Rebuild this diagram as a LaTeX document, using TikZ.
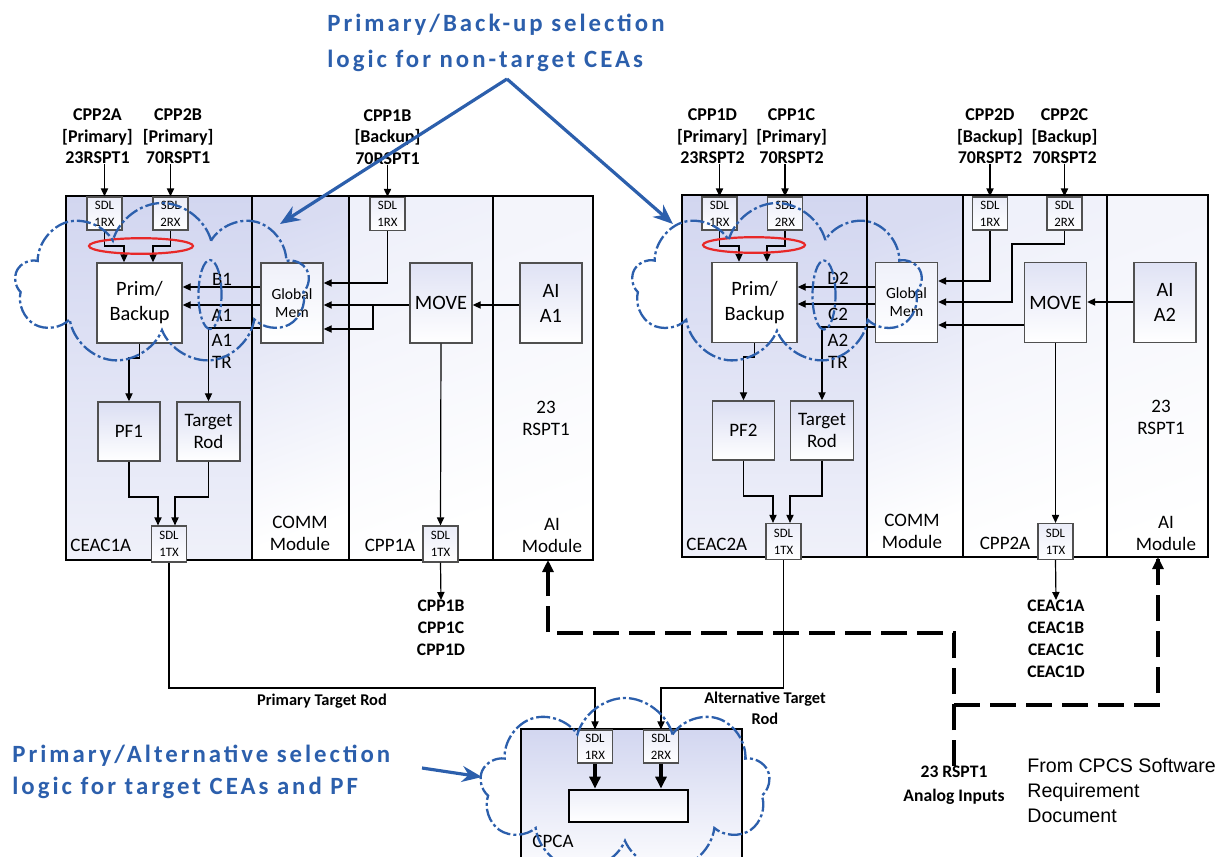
\documentclass[tikz,border=0pt]{standalone}
\usepackage{fontspec}
\setmainfont{Carlito}
\newfontfamily\calloutfont{Carlito}[LetterSpace=12]
\newfontfamily\sourcefont{Liberation Sans}
\usepackage{tikz}
\usetikzlibrary{shapes.geometric, shapes.symbols, arrows.meta, positioning, calc}
\definecolor{cpcsblue}{RGB}{44,95,172}
\definecolor{cpcslav}{RGB}{210,214,240}
\definecolor{cpcsred}{RGB}{232,40,40}
\definecolor{cpcsgray}{RGB}{80,80,80}
\tikzset{
  %% ---- racks ----
  colshade/.style   = {top color=#1, bottom color=white, shading angle=20},
  colshade/.default = cpcslav,
  rackframe/.style  = {draw=black, line width=1.3pt},
  divider/.style    = {draw=black, line width=1pt},
  %% ---- boxes ----
  sdlbox/.style  = {rectangle, draw=cpcsgray, line width=0.6pt,
                    top color=cpcslav!45, bottom color=white,
                    minimum width=17.5pt, minimum height=16.5pt, inner sep=0pt,
                    align=center, font=\fontsize{6.4}{8.4}\selectfont},
  funcbox/.style = {rectangle, draw=cpcsgray, line width=0.7pt,
                    top color=cpcslav!#1, bottom color=white,
                    minimum width=31pt, minimum height=40pt, inner sep=0pt,
                    align=center, font=\fontsize{10.2}{12.5}\selectfont},
  funcbox/.default = 70,
  pbbox/.style   = {funcbox=0, minimum width=42.5pt},
  membox/.style  = {funcbox=35, font=\fontsize{7.8}{9}\selectfont},
  pfbox/.style   = {funcbox=80, minimum height=29.5pt, font=\fontsize{9.5}{11}\selectfont},
  %% ---- texts ----
  srclbl/.style  = {font=\bfseries\fontsize{9}{10.8}\selectfont, align=center, inner sep=0pt},
  pintag/.style  = {font=\fontsize{9.5}{11}\selectfont, align=center, inner sep=0pt},
  outlist/.style = {font=\bfseries\fontsize{8.8}{10.9}\selectfont, align=center, inner sep=0pt},
  routelbl/.style= {font=\bfseries\fontsize{8.2}{10.5}\selectfont, align=center, inner sep=0pt},
  callout/.style = {font=\calloutfont\bfseries\fontsize{12.4}{18}\selectfont, text=cpcsblue,
                    align=left, inner sep=0pt},
  %% ---- arrows ----
  sig/.style      = {-{Triangle[length=4pt,width=3.6pt]}, line width=0.6pt},
  heavysig/.style = {-{Triangle[length=6pt,width=5.5pt]}, line width=1.6pt},
  feed/.style     = {line width=1.6pt, dash pattern=on 13pt off 5pt},
  callarrow/.style= {-{Stealth[length=10pt,width=8pt]}, line width=1.6pt, color=cpcsblue},
  %% ---- marks ----
  cloudy/.style   = {cloud, cloud puffs=9, cloud ignores aspect, draw=cpcsblue,
                     line width=1.15pt, dash pattern=on 7pt off 1.5pt on 1.5pt off 1.5pt,
                     inner sep=0pt},
  bluering/.style = {ellipse, draw=cpcsblue, line width=1.1pt, inner sep=0pt,
                     dash pattern=on 6pt off 1.5pt on 1.5pt off 1.5pt,
                     minimum width=11.5pt, minimum height=34.5pt},
  redring/.style  = {ellipse, draw=cpcsred, line width=1.1pt, inner sep=0pt,
                     minimum width=52pt, minimum height=7.8pt},
}

\begin{document}
\begin{tikzpicture}[x=0.5pt, y=-0.5pt]
\useasboundingbox (0,0) rectangle (1228,857);

%% left rack: CEAC1A / COMM / CPP1A / AI
\shade[colshade, bottom color=cpcslav!35] (66,196)  rectangle (252,560);
\shade[colshade=cpcslav!85] (252,196) rectangle (349,560);
\shade[colshade=cpcslav!35] (349,196) rectangle (493,560);
\shade[colshade=cpcslav!25] (493,196) rectangle (593,560);
\draw[divider] (252,196) -- (252,560) (349,196) -- (349,560) (493,196) -- (493,560);
\draw[rackframe] (66,196) rectangle (593,560);

\node[sdlbox]  (L1rx)  at (104.5,213.5) {SDL\\1RX};
\node[sdlbox]  (L2rx)  at (170.5,213.5) {SDL\\2RX};
\node[pbbox]   (Lpb)   at (139.5,303)   {Prim/\\Backup};
\node[membox]  (Lgm)   at (292,303)     {Global\\Mem};
\node[funcbox] (Lmv)   at (441,303)     {MOVE};
\node[funcbox] (Lai)   at (551,303)     {AI\\A1};
\node[pfbox]   (Lpf)   at (129,431.5)   {PF1};
\node[pfbox, minimum width=31.5pt] (Ltr) at (208.5,431.5) {Target\\Rod};
\node[sdlbox, minimum height=18pt] (Ltx)  at (169,544)   {SDL\\1TX};
\node[sdlbox]  (L1rx3) at (387.5,214)   {SDL\\1RX};
\node[sdlbox, minimum height=18pt] (Ltx3) at (440.5,544) {SDL\\1TX};

\node[srclbl, above=16pt of L1rx, xshift=-3.5pt] (Lsrc1) {CPP2A\\{[}Primary{]}\\23RSPT1};
\node[srclbl, above=16pt of L2rx, xshift=3.8pt]  (Lsrc2) {CPP2B\\{[}Primary{]}\\70RSPT1};
\node[srclbl, above=16pt of L1rx3]               (Lsrc3) {CPP1B\\{[}Backup{]}\\70RSPT1};
\draw[sig] (L1rx.north |- Lsrc1.south) -- (L1rx.north);
\draw[sig] (L2rx.north |- Lsrc2.south) -- (L2rx.north);
\draw[sig] (L1rx3.north |- Lsrc3.south) -- (L1rx3.north);

\node[pintag] (LtagB) at (222,279) {B1};
\node[pintag] (LtagA) at (222,315) {A1};
\node[pintag] (LtagT) at (222,351) {A1\\TR};
\node[pintag] (Lrsp)  at (546,418) {23\\RSPT1};
\node[pintag] (Laim)  at (552,535) {AI\\Module};
\node[pintag] (Lcpp)  at (390,545) {CPP1A};
\node[pintag] (Lcom)  at (300,533) {COMM\\Module};
\node[pintag, anchor=west] (Lcea) at (70,545) {CEAC1A};

\coordinate (Ljoin) at (373,305);
\draw[sig] (L1rx.south) -- (104.5,246) -| ($(Lpb.north)+(-15.5,0)$);
\draw[sig] (L2rx.south) -- (170.5,246) -| ($(Lpb.north)+(13.5,0)$);
\draw[sig] (Lgm.west |- 0,287) -- (Lpb.east |- 0,287);
\draw[sig] (Lgm.west |- 0,305) -- (Lpb.east |- 0,305);
\draw[sig] (Lgm.west |- 0,328) -| (Ltr.north);
\draw[sig] (Lpb.south) -- (139.5,358) -| (Lpf.north);
\draw[sig] (Lpf.south) -- (129,497) -| ($(Ltx.north)+(-11,0)$);
\draw[sig] (Ltr.south) -- (208.5,497) -| ($(Ltx.north)+(6,0)$);
\draw[sig] (L1rx3.south) |- (Lgm.east |- 0,283);
\draw[sig] (Lmv.west |- 0,305) -- (Lgm.east |- 0,305);
\draw[sig] (Ljoin) |- (Lgm.east |- 0,329);
\draw[sig] (Lai.west |- 0,305) -- (Lmv.east |- 0,305);
\draw[sig] (Lmv.south) -- (Ltx3.north);

\node[outlist, anchor=north] (Lout) at (441,600) {CPP1B\\CPP1C\\CPP1D};
\draw[sig] (Ltx3.south) -- (Lout.north);

%% right rack: CEAC2A / COMM / CPP2A / AI
\shade[colshade, bottom color=cpcslav!35] (682,195) rectangle (867,557);
\shade[colshade=cpcslav!85] (867,195)  rectangle (963,557);
\shade[colshade=cpcslav!35] (963,195)  rectangle (1107,557);
\shade[colshade=cpcslav!25] (1107,195) rectangle (1208,557);
\draw[divider] (867,195) -- (867,557) (963,195) -- (963,557) (1107,195) -- (1107,557);
\draw[rackframe] (682,195) rectangle (1208,557);

\node[sdlbox]  (R1rx)  at (719.5,213.5) {SDL\\1RX};
\node[sdlbox]  (R2rx)  at (785,213.5)   {SDL\\2RX};
\node[pbbox]   (Rpb)   at (754.5,302.5) {Prim/\\Backup};
\node[membox]  (Rgm)   at (906.5,302.5) {Global\\Mem};
\node[funcbox] (Rmv)   at (1055.5,302.5){MOVE};
\node[funcbox] (Rai)   at (1165,302.5)  {AI\\A2};
\node[pfbox]   (Rpf)   at (743.5,430.5) {PF2};
\node[pfbox, minimum width=31.5pt] (Rtr) at (822,430.5) {Target\\Rod};
\node[sdlbox, minimum height=18pt] (Rtx)  at (783.5,541.5)  {SDL\\1TX};
\node[sdlbox]  (R1rx3) at (990,213.5)   {SDL\\1RX};
\node[sdlbox]  (R2rx3) at (1064.5,213.5){SDL\\2RX};
\node[sdlbox, minimum height=18pt] (Rtx3) at (1055.5,541.5) {SDL\\1TX};

\node[srclbl, above=16pt of R1rx, xshift=-3.5pt] (Rsrc1) {CPP1D\\{[}Primary{]}\\23RSPT2};
\node[srclbl, above=16pt of R2rx, xshift=3.3pt]  (Rsrc2) {CPP1C\\{[}Primary{]}\\70RSPT2};
\node[srclbl, above=16pt of R1rx3]               (Rsrc3) {CPP2D\\{[}Backup{]}\\70RSPT2};
\node[srclbl, above=16pt of R2rx3]               (Rsrc4) {CPP2C\\{[}Backup{]}\\70RSPT2};
\draw[sig] (R1rx.north |- Rsrc1.south) -- (R1rx.north);
\draw[sig] (R2rx.north |- Rsrc2.south) -- (R2rx.north);
\draw[sig] (R1rx3.north |- Rsrc3.south) -- (R1rx3.north);
\draw[sig] (R2rx3.north |- Rsrc4.south) -- (R2rx3.north);

\node[pintag] (RtagD) at (838,278) {D2};
\node[pintag] (RtagC) at (838,314) {C2};
\node[pintag] (RtagT) at (838,351) {A2\\TR};
\node[pintag] (Rrsp)  at (1161,417) {23\\RSPT1};
\node[pintag] (Raim)  at (1166,533) {AI\\Module};
\node[pintag] (Rcpp)  at (1005,543) {CPP2A};
\node[pintag] (Rcom)  at (912,531)  {COMM\\Module};
\node[pintag, anchor=west] (Rcea) at (686,544) {CEAC2A};

\draw[sig] (R1rx.south) -- (719.5,246) -| ($(Rpb.north)+(-15.5,0)$);
\draw[sig] (R2rx.south) -- (785,246) -| ($(Rpb.north)+(12.5,0)$);
\draw[sig] (Rgm.west |- 0,287) -- (Rpb.east |- 0,287);
\draw[sig] (Rgm.west |- 0,304) -- (Rpb.east |- 0,304);
\draw[sig] (Rgm.west |- 0,327) -| (Rtr.north);
\draw[sig] (Rpb.south) -- (754.5,357) -| (Rpf.north);
\draw[sig] (Rpf.south) -- (743.5,496) -| ($(Rtx.north)+(-10.5,0)$);
\draw[sig] (Rtr.south) -- (822,496) -| ($(Rtx.north)+(6.5,0)$);
\draw[sig] (R1rx3.south) |- (Rgm.east |- 0,281);
\draw[sig] (R2rx3.south) -- (1064.5,244) -| (1012,302) -- (Rgm.east |- 0,302);
\draw[sig] (Rmv.west |- 0,325) -- (Rgm.east |- 0,325);
\draw[sig] (Rai.west |- 0,302) -- (Rmv.east |- 0,302);
\draw[sig] (Rmv.south) -- (Rtx3.north);

\node[outlist, anchor=north] (Rout) at (1056,600) {CEAC1A\\CEAC1B\\CEAC1C\\CEAC1D};
\draw[sig] (Rtx3.south) -- (Rout.north);

%% CPCA
\shade[colshade, bottom color=white] (521,729) rectangle (742,880);
\draw[rackframe] (521,880) -- (521,729) -- (742,729) -- (742,880);
\node[sdlbox] (Crx1) at (595,746.5) {SDL\\1RX};
\node[sdlbox] (Crx2) at (661,746.5) {SDL\\2RX};
\node[rectangle, draw, line width=1.4pt, top color=cpcslav!40, bottom color=white,
      minimum width=59.5pt, minimum height=16pt, inner sep=0pt] (Csel) at (628.5,806) {};
\node[pintag] (Ccpca) at (553,841) {CPCA};
\draw[heavysig] (Crx1.south) -- (Crx1.south |- Csel.north);
\draw[heavysig] (Crx2.south) -- (Crx2.south |- Csel.north);

\draw[sig] (Ltx.south) -- (169,688) -| (Crx1.north);
\draw[sig] (Rtx.south) -- (783.5,688) -| (Crx2.north);
\node[routelbl] (Lroute) at (322,701) {Primary Target Rod};
\node[routelbl] (Rroute) at (765,708) {Alternative Target\\Rod};

%% analog inputs
\node[routelbl, anchor=north, font=\bfseries\fontsize{8.8}{12}\selectfont] (ana) at (954,766) {23 RSPT1\\Analog Inputs};
\coordinate (LaiIn) at (548,560);
\coordinate (RaiIn) at (1158,557);
\coordinate (tap)   at (954,705);
\draw[feed] (ana.north) -- (ana.north |- 0,633) -| (LaiIn);
\draw[feed] (tap) -| (RaiIn);
\draw[heavysig] ($(LaiIn)+(0,12)$) -- (LaiIn);
\draw[heavysig] ($(RaiIn)+(0,12)$) -- (RaiIn);

\node[anchor=north west, align=left, inner sep=0pt,
      font=\sourcefont\fontsize{9.8}{12.5}\selectfont] (src) at (1027,758)
     {From CPCS Software\\Requirement\\Document};

%% selection logic call-outs
\node[redring] (Lsel) at (141,246) {};
\node[redring, minimum width=51pt] (Rsel) at (754,245) {};
\node[bluering] (Lring) at (210,294.5) {};
\node[bluering] (Rring) at (824,295) {};
\node[cloudy, minimum width=147pt, minimum height=81pt] (Lcloud) at (162,284) {};
\node[cloudy, minimum width=145pt, minimum height=81pt] (Rcloud) at (777,284) {};
\node[cloudy, minimum width=145pt, minimum height=88pt] (Ccloud) at (625,786) {};

\node[callout, anchor=north west] (note1) at (327,14)
     {Primary/Back-up selection\\logic for non-target CEAs};
\node[callout, anchor=north west, font=\calloutfont\bfseries\fontsize{12.4}{16}\selectfont] (note2) at (12,745)
     {Primary/Alternative selection\\logic for target CEAs and PF};
\coordinate (apex) at (507,79);
\coordinate (Lhit) at (280,224);
\coordinate (Rhit) at (673,224);
\coordinate (tail) at (422,768);
\coordinate (Chit) at (482,777);
\draw[callarrow] (apex) -- (Lhit);
\draw[callarrow] (apex) -- (Rhit);
\draw[callarrow] (tail) -- (Chit);
\end{tikzpicture}
\end{document}
